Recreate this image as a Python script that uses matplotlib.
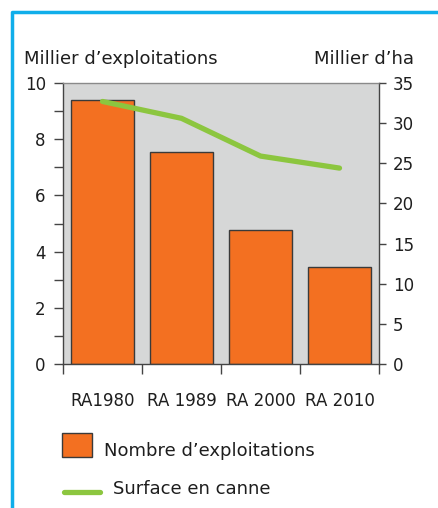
import matplotlib
matplotlib.use("Agg")
import matplotlib.pyplot as plt
from matplotlib.patches import Rectangle
from matplotlib.lines import Line2D
from matplotlib.ticker import MultipleLocator

categories = ["RA1980", "RA 1989", "RA 2000", "RA 2010"]
exploitations = [9.4, 7.53, 4.77, 3.46]      # milliers d'exploitations
surface = [32.7, 30.6, 25.9, 24.4]           # milliers d'ha
left_label = "Millier d\u2019exploitations"
right_label = "Millier d\u2019ha"
legend_bar = "Nombre d\u2019exploitations"
legend_line = "Surface en canne"

W, H = 438, 508
plt.rcParams['font.family'] = ['DejaVu Sans']
FS = 12
FS2 = 13
fig = plt.figure(figsize=(W / 100, H / 100), dpi=100)

def fx(px):
    return px / W

def fy(py):
    return 1 - py / H

x0, x1, y0, y1 = 63, 379, 83, 364
ax = fig.add_axes([fx(x0), fy(y1), fx(x1) - fx(x0), (y1 - y0) / H])
ax.set_facecolor("#D6D7D7")

orange = "#F37021"
green = "#8CC63F"
spine_c = "#444444"
txt = "#1e1e1e"

xs = list(range(len(categories)))
ax.bar(xs, exploitations, width=0.8, color=orange, edgecolor="#3a3a3a", linewidth=1.0, zorder=2)
ax.set_xlim(-0.5, len(categories) - 0.5)
ax.set_ylim(0, 10)
ax.set_yticks([0, 2, 4, 6, 8, 10])
ax.yaxis.set_minor_locator(MultipleLocator(1))
ax.set_xticks(xs)
ax.set_xticklabels(categories)
ax.set_xticks([i - 0.5 for i in range(len(categories) + 1)], minor=True)
ax.tick_params(axis='x', which='major', length=0, pad=20, labelsize=FS, colors=txt)
ax.tick_params(axis='x', which='minor', length=7, width=1, color=spine_c, direction='out')
ax.tick_params(axis='y', which='both', length=6.6, width=1, color=spine_c, direction='out',
               labelsize=FS, labelcolor=txt, pad=5.8)

for s in ["left", "right", "bottom"]:
    ax.spines[s].set_color(spine_c)
    ax.spines[s].set_linewidth(1)
ax.spines["top"].set_color("#8a8a8a")
ax.spines["top"].set_linewidth(1)

ax2 = ax.twinx()
ax2.plot(xs, surface, color=green, linewidth=3.8, solid_capstyle='round', zorder=3)
ax2.set_ylim(0, 35)
ax2.set_yticks([0, 5, 10, 15, 20, 25, 30, 35])
ax2.tick_params(axis='y', which='major', length=5, width=1, color=spine_c, direction='out',
                labelsize=FS, labelcolor=txt, pad=5)
for s in ["left", "right", "top", "bottom"]:
    ax2.spines[s].set_visible(False)

fig.text(fx(24), fy(64), left_label, fontsize=FS2, color=txt, ha='left', va='baseline')
fig.text(fx(414), fy(64), right_label, fontsize=FS2, color=txt, ha='right', va='baseline')

# legend
fig.patches.append(Rectangle((fx(62), fy(457)), fx(92) - fx(62), (457 - 433) / H,
                             transform=fig.transFigure, facecolor=orange, edgecolor="#3a3a3a", linewidth=1))
fig.text(fx(104), fy(456), legend_bar, fontsize=FS2, color=txt, ha='left', va='baseline')
fig.lines.append(Line2D([fx(64), fx(100)], [fy(492), fy(492)], transform=fig.transFigure,
                        color=green, linewidth=3.8, solid_capstyle='round'))
fig.text(fx(113), fy(494), legend_line, fontsize=FS2, color=txt, ha='left', va='baseline')

# frame border
fig.lines.append(Line2D([fx(12), fx(12), fx(438)], [fy(508), fy(12), fy(12)], transform=fig.transFigure,
                        color="#10AEEA", linewidth=2.5))

fig.savefig("out.png", dpi=100)
